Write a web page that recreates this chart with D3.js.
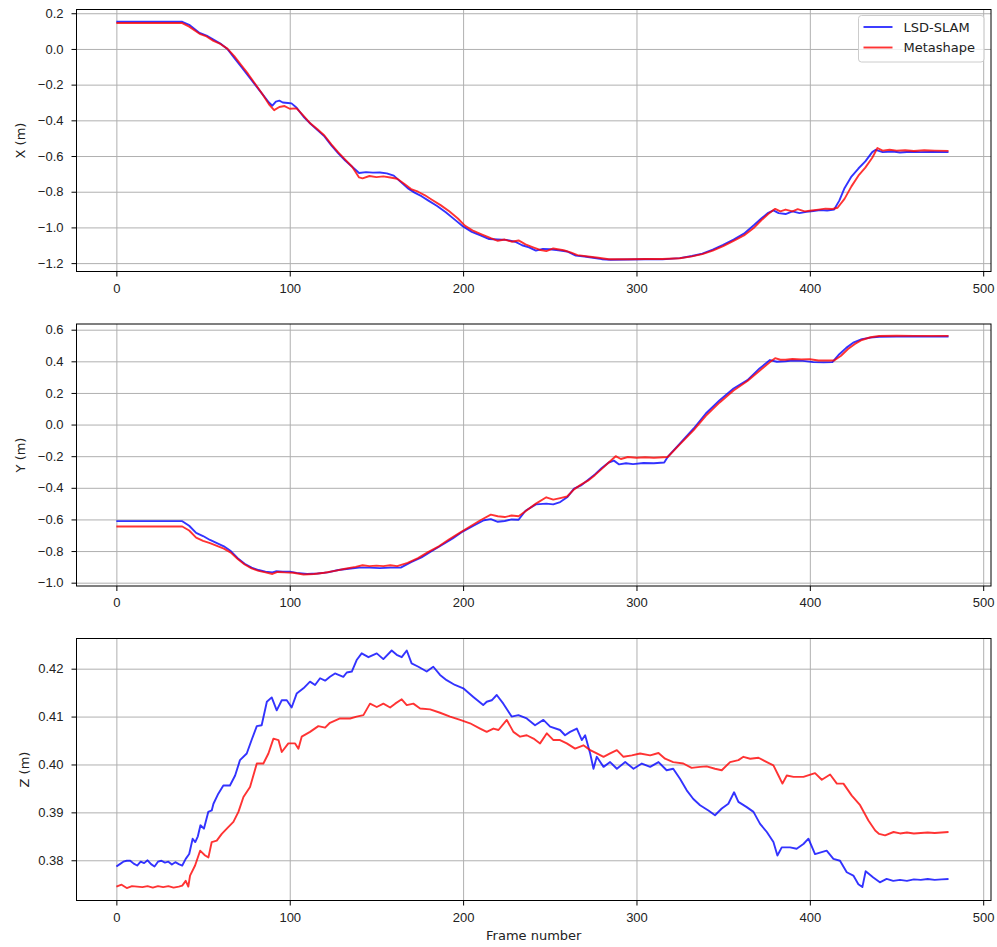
<!DOCTYPE html>
<html>
<head>
<meta charset="utf-8">
<script src="https://cdn.jsdelivr.net/npm/d3@7"></script>
<style>
  body { margin: 0; background: #fff; }
  svg { font-family: "DejaVu Sans", sans-serif; }
  .grid line { stroke: #b0b0b0; stroke-width: 1; }
  .grid path, .axis path { display: none; }
  .axis line { stroke: #000; stroke-width: 1; }
  .axis text { font-size: 13px; fill: #222; }
  .path-line { fill: none; stroke-width: 1.9; stroke-opacity: 0.8; stroke-linejoin: round; }
</style>
</head>
<body>
<div id="chart"></div>
<script>
// Series names + colours (legend)
const seriesNames = ['LSD-SLAM', 'Metashape']
const seriesColors = ['#0000ff', '#ff0000']

// Frame axis ticks
const frameTicks = [0, 100, 200, 300, 400, 500]

// X (m) - [frame, value]
const lsdX = [[0,0.152],[38,0.152],[42,0.135],[48,0.09],[52,0.075],[56,0.052],[60,0.03],[64,0.0],[68,-0.05],[72,-0.1],[76,-0.15],[80,-0.2],[84,-0.25],[88,-0.3],[90,-0.318],[92,-0.295],[94,-0.29],[96,-0.3],[99,-0.303],[101,-0.305],[104,-0.33],[108,-0.38],[112,-0.42],[116,-0.455],[120,-0.49],[124,-0.54],[128,-0.585],[132,-0.625],[136,-0.66],[140,-0.695],[144,-0.69],[148,-0.693],[152,-0.692],[156,-0.697],[160,-0.71],[164,-0.745],[168,-0.78],[172,-0.805],[176,-0.825],[180,-0.85],[185,-0.88],[190,-0.915],[195,-0.955],[200,-0.995],[205,-1.025],[210,-1.045],[215,-1.065],[220,-1.068],[225,-1.07],[230,-1.08],[234,-1.1],[238,-1.112],[242,-1.13],[246,-1.12],[250,-1.122],[255,-1.128],[260,-1.135],[265,-1.158],[270,-1.163],[275,-1.17],[280,-1.178],[285,-1.181],[295,-1.18],[305,-1.178],[315,-1.179],[325,-1.172],[332,-1.16],[338,-1.147],[344,-1.125],[350,-1.098],[356,-1.068],[362,-1.035],[368,-0.985],[372,-0.95],[376,-0.918],[379,-0.905],[382,-0.92],[386,-0.925],[390,-0.91],[394,-0.92],[398,-0.913],[402,-0.908],[406,-0.903],[410,-0.905],[414,-0.9],[417,-0.85],[420,-0.78],[424,-0.715],[428,-0.67],[432,-0.63],[436,-0.578],[438,-0.565],[442,-0.578],[448,-0.575],[452,-0.58],[458,-0.576],[464,-0.578],[470,-0.577],[480,-0.578]]
const metaX = [[0,0.145],[38,0.145],[42,0.125],[48,0.085],[52,0.07],[56,0.045],[60,0.028],[64,0.002],[68,-0.04],[72,-0.09],[76,-0.14],[80,-0.195],[84,-0.25],[88,-0.31],[91,-0.343],[94,-0.325],[97,-0.32],[100,-0.335],[104,-0.333],[108,-0.375],[112,-0.418],[116,-0.45],[120,-0.485],[124,-0.535],[128,-0.58],[132,-0.62],[136,-0.66],[140,-0.72],[142,-0.725],[146,-0.712],[150,-0.718],[154,-0.714],[158,-0.72],[162,-0.727],[166,-0.755],[170,-0.785],[174,-0.8],[178,-0.82],[182,-0.845],[187,-0.875],[192,-0.91],[197,-0.95],[201,-0.99],[206,-1.02],[211,-1.04],[216,-1.06],[220,-1.075],[224,-1.068],[228,-1.08],[232,-1.073],[236,-1.095],[240,-1.11],[244,-1.125],[248,-1.133],[252,-1.118],[258,-1.128],[262,-1.14],[266,-1.155],[272,-1.163],[278,-1.17],[284,-1.178],[295,-1.178],[305,-1.177],[315,-1.177],[325,-1.173],[332,-1.162],[338,-1.15],[344,-1.13],[350,-1.105],[356,-1.075],[362,-1.045],[368,-1.0],[372,-0.96],[376,-0.925],[380,-0.896],[383,-0.91],[386,-0.9],[390,-0.91],[393,-0.898],[397,-0.91],[401,-0.905],[405,-0.9],[409,-0.895],[413,-0.897],[416,-0.89],[420,-0.84],[424,-0.77],[428,-0.71],[432,-0.665],[436,-0.61],[439,-0.555],[442,-0.57],[446,-0.565],[450,-0.57],[455,-0.568],[460,-0.572],[466,-0.568],[472,-0.57],[480,-0.571]]

// Y (m)
const lsdY = [[0,-0.611],[38,-0.611],[42,-0.64],[46,-0.685],[50,-0.705],[54,-0.73],[58,-0.75],[62,-0.77],[66,-0.8],[70,-0.845],[74,-0.88],[78,-0.905],[82,-0.92],[86,-0.93],[90,-0.935],[92,-0.928],[96,-0.93],[100,-0.93],[104,-0.938],[110,-0.945],[116,-0.942],[122,-0.935],[128,-0.92],[134,-0.912],[140,-0.905],[146,-0.905],[152,-0.908],[158,-0.905],[164,-0.905],[170,-0.87],[176,-0.84],[182,-0.8],[188,-0.76],[194,-0.72],[200,-0.675],[206,-0.64],[212,-0.605],[216,-0.598],[220,-0.615],[224,-0.61],[228,-0.6],[232,-0.602],[236,-0.545],[242,-0.505],[248,-0.5],[252,-0.505],[256,-0.49],[260,-0.46],[264,-0.405],[268,-0.385],[272,-0.35],[276,-0.315],[280,-0.275],[284,-0.24],[287,-0.228],[290,-0.252],[294,-0.245],[298,-0.25],[304,-0.243],[310,-0.245],[316,-0.24],[318,-0.205],[325,-0.12],[333,-0.025],[340,0.07],[348,0.154],[356,0.228],[364,0.281],[371,0.355],[377,0.408],[381,0.397],[386,0.4],[390,0.405],[396,0.403],[402,0.395],[408,0.393],[413,0.395],[417,0.445],[421,0.485],[425,0.518],[430,0.54],[435,0.55],[440,0.555],[450,0.556],[460,0.557],[470,0.556],[480,0.557]]
const metaY = [[0,-0.645],[38,-0.645],[42,-0.67],[46,-0.715],[50,-0.735],[54,-0.75],[58,-0.768],[62,-0.785],[66,-0.81],[70,-0.85],[74,-0.885],[78,-0.91],[82,-0.925],[86,-0.935],[90,-0.945],[93,-0.932],[97,-0.935],[102,-0.937],[108,-0.948],[114,-0.945],[120,-0.937],[126,-0.925],[132,-0.912],[138,-0.9],[142,-0.89],[146,-0.895],[150,-0.892],[154,-0.895],[158,-0.89],[162,-0.895],[168,-0.875],[174,-0.845],[180,-0.805],[186,-0.77],[192,-0.725],[198,-0.685],[204,-0.645],[210,-0.605],[216,-0.57],[220,-0.58],[224,-0.585],[228,-0.575],[232,-0.58],[236,-0.548],[242,-0.5],[248,-0.46],[252,-0.475],[256,-0.465],[260,-0.455],[264,-0.41],[268,-0.38],[272,-0.355],[276,-0.32],[280,-0.28],[284,-0.24],[288,-0.2],[291,-0.218],[295,-0.205],[300,-0.21],[305,-0.207],[310,-0.21],[318,-0.205],[325,-0.125],[333,-0.035],[340,0.055],[348,0.14],[356,0.215],[364,0.275],[371,0.34],[377,0.395],[380,0.42],[383,0.41],[386,0.41],[390,0.415],[395,0.412],[400,0.413],[405,0.405],[410,0.405],[414,0.405],[418,0.435],[422,0.478],[426,0.51],[430,0.535],[435,0.552],[440,0.56],[450,0.562],[460,0.561],[470,0.561],[480,0.561]]

// Z (m)
const lsdZ = [[0,0.3787],[2,0.3792],[4,0.3797],[6,0.3799],[8,0.3799],[10,0.3793],[12,0.3789],[14,0.3797],[16,0.3794],[18,0.38],[20,0.3792],[22,0.3787],[24,0.3797],[26,0.3799],[28,0.3795],[30,0.3797],[32,0.3791],[34,0.3796],[36,0.3792],[38,0.3789],[40,0.3803],[42,0.3813],[44,0.3845],[45.5,0.3838],[47,0.385],[48.5,0.3873],[50.5,0.3866],[53,0.3901],[55,0.3904],[56,0.3918],[58.8,0.3939],[61.7,0.3956],[65.5,0.3956],[68.5,0.3977],[71.3,0.4009],[75.2,0.4023],[78,0.4051],[81,0.408],[83.8,0.4082],[86.8,0.4131],[89.6,0.414],[92.5,0.4113],[95.4,0.4134],[98.3,0.4134],[101.1,0.4119],[104,0.4148],[107.9,0.4159],[111.7,0.4173],[114.6,0.4166],[117.5,0.418],[120.4,0.4175],[123.2,0.4183],[126.1,0.419],[130.9,0.4183],[132.9,0.4192],[135.8,0.4194],[138.6,0.4218],[141.5,0.4232],[145.4,0.4224],[150.2,0.4232],[154,0.422],[158.8,0.4238],[161.7,0.4229],[164.6,0.4224],[167.5,0.4238],[170.3,0.4211],[174.2,0.4204],[179,0.4194],[182.8,0.4204],[186.7,0.4187],[190.5,0.4176],[195.3,0.4166],[200.1,0.4159],[205.9,0.4141],[211.6,0.4124],[213.6,0.4131],[216.5,0.4134],[219.4,0.4145],[223.2,0.4127],[228,0.41],[231.9,0.4103],[236.7,0.4096],[241.5,0.4082],[246.3,0.4093],[250.2,0.4079],[255.9,0.4072],[258.8,0.4061],[261.7,0.4068],[265.6,0.4075],[268.5,0.4051],[270.4,0.4061],[273.3,0.4023],[275.2,0.3991],[277.1,0.4016],[281,0.3995],[284.8,0.4005],[288.7,0.3991],[293.5,0.4005],[298.3,0.3991],[303.1,0.4002],[307.9,0.3995],[312.7,0.4005],[317.4,0.3988],[321.2,0.3991],[325.1,0.397],[329,0.3946],[332.8,0.3928],[336.7,0.3915],[341.5,0.3904],[345.3,0.3894],[349.2,0.3908],[353,0.3918],[356.3,0.3942],[358.8,0.3922],[363.6,0.3911],[367.5,0.3901],[371.3,0.3876],[375.2,0.3859],[379,0.3838],[381.3,0.381],[383.8,0.3827],[388.6,0.3827],[392.4,0.3824],[396.3,0.3834],[399.2,0.3845],[403,0.3813],[409.7,0.382],[413.6,0.3803],[417.4,0.3799],[421.3,0.3775],[425.1,0.3768],[428,0.375],[430.3,0.3744],[432.2,0.3777],[436.6,0.3764],[440.4,0.3754],[444.3,0.3761],[448.1,0.3757],[452,0.3759],[456,0.3757],[460,0.376],[464,0.3759],[468,0.3761],[472,0.3759],[476,0.376],[480,0.3761]]
const metaZ = [[0,0.3745],[3,0.3749],[6,0.3742],[9,0.3746],[12,0.3745],[15,0.3744],[18,0.3746],[21,0.3743],[24,0.3746],[27,0.3744],[30,0.3746],[33,0.3743],[36,0.3745],[38,0.3747],[40,0.3757],[41.5,0.3745],[42.5,0.3768],[45.4,0.3789],[48.3,0.382],[51.2,0.381],[53.1,0.3806],[55,0.3838],[57.9,0.3841],[60.8,0.3855],[63.7,0.3866],[67.5,0.388],[70.4,0.3901],[73.3,0.3932],[77.1,0.3953],[81,0.4002],[84.8,0.4002],[87.7,0.4023],[90.6,0.4054],[93.5,0.4051],[95.4,0.4026],[99.2,0.4044],[103.1,0.4044],[105,0.4033],[106.9,0.4058],[111.7,0.4068],[116.5,0.408],[120.4,0.4077],[123.2,0.4087],[129,0.4096],[134.8,0.4096],[138.6,0.41],[142.5,0.4103],[146.3,0.4127],[150.2,0.412],[154,0.4127],[157.9,0.4119],[160.8,0.4127],[164.6,0.4136],[167.5,0.4124],[171.3,0.4127],[175.2,0.4117],[181,0.4115],[186.7,0.4108],[192.5,0.41],[198.3,0.4093],[204,0.4086],[209.8,0.4075],[213.6,0.4068],[217.5,0.4075],[220.4,0.4072],[225.2,0.4093],[229,0.4068],[232.9,0.4058],[236.7,0.4061],[240.6,0.4054],[244.4,0.4044],[248.3,0.4065],[252.1,0.4051],[255.9,0.4051],[259.8,0.4044],[264.6,0.4033],[269.4,0.404],[273.3,0.403],[277.1,0.4023],[281,0.4016],[284.8,0.4023],[288.7,0.403],[292.5,0.4016],[297.3,0.4019],[302.1,0.4023],[307.9,0.4019],[312.7,0.4024],[316.5,0.4012],[321.2,0.4005],[327,0.4002],[331.8,0.3993],[336.7,0.3995],[340.5,0.3996],[345.3,0.3991],[349.2,0.3988],[354,0.4005],[358.8,0.4009],[361.7,0.4016],[365.6,0.4012],[370.4,0.4014],[375.2,0.4005],[379,0.3998],[381.9,0.3977],[384.2,0.396],[386.7,0.3977],[390.6,0.3974],[396.3,0.3974],[403,0.3982],[406.9,0.3968],[411.7,0.3979],[415.6,0.396],[419.4,0.396],[424.2,0.3935],[429,0.3915],[433.8,0.3883],[437.7,0.3862],[440,0.3855],[443.4,0.3852],[448.3,0.3859],[452,0.3856],[456,0.3858],[460,0.3856],[464,0.3857],[468,0.3858],[472,0.3857],[476,0.3858],[480,0.3859]]

// Y ticks per panel
const xTicksM = [-1.2, -1.0, -0.8, -0.6, -0.4, -0.2, 0.0, 0.2]
const yTicksM = [-1.0, -0.8, -0.6, -0.4, -0.2, 0.0, 0.2, 0.4, 0.6]
const zTicksM = [0.38, 0.39, 0.40, 0.41, 0.42]

const drawChart = () => {
  const width = 997
  const height = 947
  const left = 76.5
  const innerWidth = 914.5
  const innerHeight = 262

  const svg = d3.select('#chart')
    .append('svg')
    .attr('width', width)
    .attr('height', height)

  const x = d3.scaleLinear().domain([-23, 504.5]).range([0, innerWidth])

  const panels = [
    { top: 9.5, series: [lsdX, metaX], domain: [-1.247, 0.221], ticks: xTicksM, fmt: d3.format('.1f'), label: 'X (m)', labelX: 20, legend: true },
    { top: 324, series: [lsdY, metaY], domain: [-1.021, 0.636], ticks: yTicksM, fmt: d3.format('.1f'), label: 'Y (m)', labelX: 20 },
    { top: 638.5, series: [lsdZ, metaZ], domain: [0.3716, 0.4263], ticks: zTicksM, fmt: d3.format('.2f'), label: 'Z (m)', labelX: 24, xlabel: 'Frame number' }
  ]

  panels.forEach(p => {
    const g = svg.append('g').attr('transform', `translate(${left}, ${p.top})`)
    const y = d3.scaleLinear().domain(p.domain).range([innerHeight, 0])

    // Gridlines first
    g.append('g')
      .attr('class', 'grid')
      .attr('transform', `translate(0, ${innerHeight})`)
      .call(d3.axisBottom(x).tickValues(frameTicks).tickSize(-innerHeight).tickFormat(''))
    g.append('g')
      .attr('class', 'grid')
      .call(d3.axisLeft(y).tickValues(p.ticks).tickSize(-innerWidth).tickFormat(''))

    // Series lines
    const line = d3.line().x(d => x(d[0])).y(d => y(d[1]))
    p.series.forEach((s, i) => {
      g.append('path')
        .datum(s)
        .attr('class', 'path-line')
        .attr('stroke', seriesColors[i])
        .attr('d', line)
    })

    // Frame
    g.append('rect')
      .attr('width', innerWidth)
      .attr('height', innerHeight)
      .attr('fill', 'none')
      .attr('stroke', '#000')
      .attr('stroke-width', 1)

    // Axes
    g.append('g')
      .attr('class', 'axis')
      .attr('transform', `translate(0, ${innerHeight})`)
      .call(d3.axisBottom(x).tickValues(frameTicks).tickSize(5).tickPadding(7).tickFormat(d3.format('d')))
    g.append('g')
      .attr('class', 'axis')
      .call(d3.axisLeft(y).tickValues(p.ticks).tickSize(5).tickPadding(8).tickFormat(p.fmt))

    // Y label
    svg.append('text')
      .attr('transform', `translate(${p.labelX}, ${p.top + innerHeight / 2}) rotate(-90)`)
      .attr('text-anchor', 'middle')
      .attr('dominant-baseline', 'central')
      .attr('font-size', 13)
      .attr('fill', '#222')
      .text(p.label)

    if (p.xlabel) {
      svg.append('text')
        .attr('x', left + innerWidth / 2)
        .attr('y', p.top + innerHeight + 39)
        .attr('text-anchor', 'middle')
        .attr('font-size', 13)
        .attr('fill', '#222')
        .text(p.xlabel)
    }

    if (p.legend) {
      const lg = svg.append('g').attr('transform', 'translate(858.5, 15.5)')
      lg.append('rect')
        .attr('width', 125.5)
        .attr('height', 46.5)
        .attr('rx', 3)
        .attr('fill', '#fff')
        .attr('fill-opacity', 0.8)
        .attr('stroke', '#ccc')
      seriesNames.forEach((name, i) => {
        const ly = 11.5 + i * 20.5
        lg.append('line')
          .attr('x1', 5).attr('x2', 34)
          .attr('y1', ly).attr('y2', ly)
          .attr('stroke', seriesColors[i])
          .attr('stroke-opacity', 0.8)
          .attr('stroke-width', 1.9)
        lg.append('text')
          .attr('x', 45)
          .attr('y', ly + 4.7)
          .attr('font-size', 13)
          .attr('fill', '#222')
          .text(name)
      })
    }
  })
}

drawChart()
</script>
</body>
</html>
